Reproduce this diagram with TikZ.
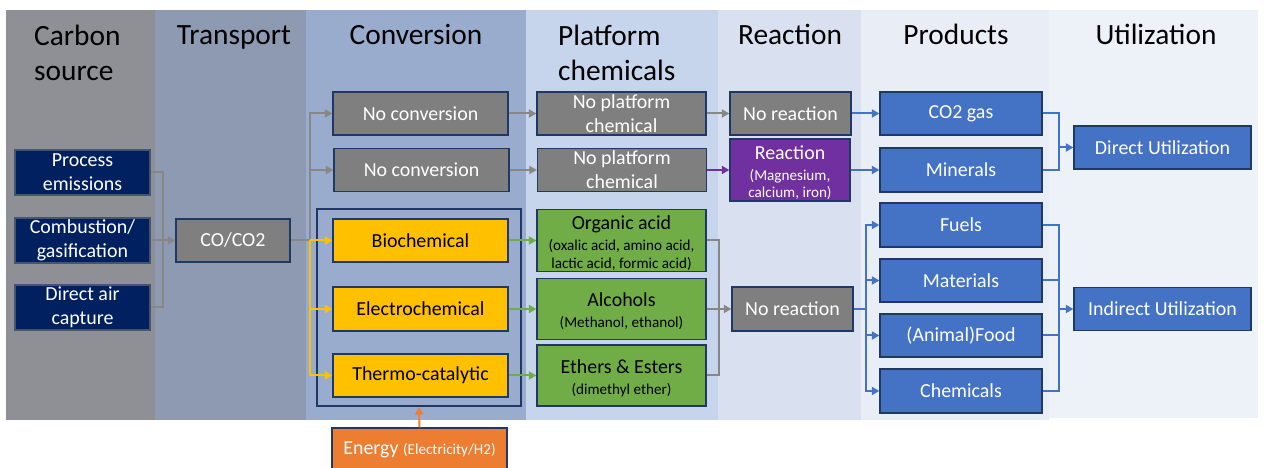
\documentclass[tikz,border=0pt]{standalone}
\usepackage{fontspec}
\setmainfont{Carlito}
\usetikzlibrary{arrows.meta}
\definecolor{cCarbon}{HTML}{8E9096}
\definecolor{cTrans}{HTML}{8D9AB2}
\definecolor{cConv}{HTML}{99ACCD}
\definecolor{cPlat}{HTML}{C6D4EC}
\definecolor{cReac}{HTML}{D9E1F1}
\definecolor{cProd}{HTML}{E9EDF6}
\definecolor{cUtil}{HTML}{EDF1F8}
\definecolor{cNavy}{HTML}{002060}
\definecolor{cBorder}{HTML}{1F3864}
\definecolor{cGrayBox}{HTML}{7F7F7F}
\definecolor{cYellow}{HTML}{FFC000}
\definecolor{cGreen}{HTML}{70AD47}
\definecolor{cPurple}{HTML}{7030A0}
\definecolor{cBlue}{HTML}{4472C4}
\definecolor{cOrange}{HTML}{ED7D31}
\definecolor{cLine}{HTML}{878787}
\newcommand\smalltxt[1]{{\fontsize{15.2}{18}\selectfont #1}}
\newcommand\tallstrut{\rule{0pt}{19bp}}
\begin{document}
\begin{tikzpicture}[x=1bp,y=-1bp,
  box/.style={draw=cBorder, line width=1.3bp, inner sep=0pt, align=center,
    font=\fontsize{20}{24}\selectfont, text=white},
  wh/.style 2 args={minimum width=#1bp, minimum height=#2bp},
  srcbox/.style={box, fill=cNavy, draw=cBorder!60!gray},
  graybox/.style={box, fill=cGrayBox},
  yelbox/.style={box, fill=cYellow, text=black},
  grnbox/.style={box, fill=cGreen, text=black},
  purbox/.style={box, fill=cPurple},
  bluebox/.style={box, fill=cBlue},
  orgbox/.style={box, fill=cOrange},
  groupbox/.style={draw=cBorder, line width=2bp, inner sep=0pt},
  header/.style={inner sep=0pt, font=\fontsize{29.5}{35}\selectfont, text=black, align=left},
  conn/.style={line width=2bp, line join=miter},
  arr/.style={conn, -{Triangle[length=7.5bp,width=8bp]}},
  gline/.style={conn, draw=cLine},
  garr/.style={arr, draw=cLine},
  yarr/.style={arr, draw=cYellow},
  grarr/.style={arr, draw=cGreen},
  parr/.style={arr, draw=cPurple},
  bline/.style={conn, draw=cBlue},
  barr/.style={arr, draw=cBlue},
  oarr/.style={arr, draw=cOrange}
]
\useasboundingbox (0,0) rectangle (1264,468);
\fill[white] (0,0) rectangle (1264,468);
% column backgrounds
\fill[cCarbon] (6,10) rectangle (155,420);
\fill[cTrans] (155,10) rectangle (306,420);
\fill[cConv] (306,10) rectangle (526,420);
\fill[cPlat] (526,10) rectangle (718,420);
\fill[cReac] (718,10) rectangle (861,420);
\fill[cProd] (861,10) rectangle (1049,420);
\fill[cUtil] (1049,10) rectangle (1258,418);
% headers
\node[header, anchor=west] (hC) at (34,52.5) {Carbon\\source};
\node[header, anchor=base] (hT) at (234,45) {Transport};
\node[header, anchor=base] (hV) at (416,45) {Conversion};
\node[header, anchor=west] (hP) at (558,52.5) {Platform\\chemicals};
\node[header, anchor=base] (hR) at (790,45) {Reaction};
\node[header, anchor=base] (hPr) at (956,45) {Products};
\node[header, anchor=base] (hU) at (1156,45) {Utilization};
% carbon sources
\node[srcbox, wh={135}{45}] (src1) at (82.5,172.5) {Process\\emissions};
\node[srcbox, wh={135}{45}] (src2) at (82.5,240.5) {Combustion/\\gasification};
\node[srcbox, wh={135}{45}] (src3) at (82.5,307.5) {Direct air\\capture};
% transport
\node[graybox, wh={114}{43}] (co) at (233,240.5) {CO/CO2};
% conversion
\node[groupbox, wh={204}{197}] (grp) at (419,307.5) {};
\node[graybox, wh={175}{43}] (nc1) at (420.5,113.5) {No conversion};
\node[graybox, wh={175}{43}] (nc2) at (421.5,170) {No conversion};
\node[yelbox, wh={175}{43}] (bio) at (420.5,240.5) {Biochemical};
\node[yelbox, wh={175}{44}] (ele) at (420.5,309) {Electrochemical};
\node[yelbox, wh={175}{43}] (thc) at (420.5,375.5) {Thermo-catalytic};
\node[orgbox, wh={175}{44}] (energy) at (419.5,450) {Energy \smalltxt{(Electricity/H2)}};
% platform chemicals
\node[graybox, wh={169}{43}] (np1) at (621.5,113.5) {No platform\\chemical};
\node[graybox, wh={169}{43}] (np2) at (622,170) {No platform\\chemical};
\node[grnbox, wh={169}{62}] (oa) at (621.5,240.5) {\tallstrut Organic acid\\[-3bp]\smalltxt{(oxalic acid, amino acid,}\\[-6bp]\smalltxt{lactic acid, formic acid)}};
\node[grnbox, wh={169}{61}] (al) at (621.5,309) {\tallstrut Alcohols\\[-3bp]\smalltxt{(Methanol, ethanol)}};
\node[grnbox, wh={169}{61}] (ee) at (621.5,375.5) {\tallstrut Ethers \& Esters\\[-3bp]\smalltxt{(dimethyl ether)}};
% reaction
\node[graybox, wh={121}{43}] (nr1) at (790.5,113.5) {No reaction};
\node[purbox, wh={120}{62}] (rx) at (790,170) {\tallstrut Reaction\\[-3bp]\smalltxt{(Magnesium,}\\[-7bp]\smalltxt{calcium, iron)}};
\node[graybox, wh={121}{44}] (nr2) at (792.5,309) {No reaction};
% products
\node[bluebox, wh={162}{43}] (co2) at (961,113.5) {CO2 gas};
\node[bluebox, wh={162}{44}] (min) at (961,170) {Minerals};
\node[bluebox, wh={162}{44}] (fuel) at (961,225) {Fuels};
\node[bluebox, wh={162}{43}] (mat) at (961,280.5) {Materials};
\node[bluebox, wh={162}{43}] (food) at (961,335.5) {(Animal)Food};
\node[bluebox, wh={162}{44}] (chem) at (961,391) {Chemicals};
% utilization
\node[bluebox, wh={177}{43}] (du) at (1162.5,147.5) {Direct Utilization};
\node[bluebox, wh={177}{43}] (iu) at (1162.5,309) {Indirect Utilization};
% junctions
\coordinate (j1) at (163,240.5);
\coordinate (j2) at (310,240.5);
\coordinate (j3) at (719,309);
\coordinate (j4) at (1059,147.5);
\coordinate (j5) at (866,309);
\coordinate (j6) at (1059,309);
% connectors: sources -> CO/CO2
\draw[gline] (src1.east) -| (j1);
\draw[gline] (src3.east) -| (j1);
\draw[garr] (src2.east) -- (co.west);
% CO/CO2 -> conversion
\draw[gline] (co.east) -- (j2);
\draw[garr] (j2) |- (nc1.west);
\draw[garr] (j2) |- (nc2.west);
\draw[yarr] (j2) -- (bio.west);
\draw[yarr] (j2) |- (ele.west);
\draw[yarr] (j2) |- (thc.west);
% energy
\draw[oarr] (energy.north) -- (grp.south);
% conversion -> platform
\draw[garr] (nc1.east) -- (np1.west);
\draw[garr] (nc2.east) -- (np2.west);
\draw[grarr] (bio.east) -- (oa.west);
\draw[grarr] (ele.east) -- (al.west);
\draw[grarr] (thc.east) -- (ee.west);
% platform -> reaction
\draw[garr] (np1.east) -- (nr1.west);
\draw[parr] (np2.east) -- (rx.west);
\draw[gline] (oa.east) -| (j3);
\draw[gline] (ee.east) -| (j3);
\draw[garr] (al.east) -- (nr2.west);
% reaction -> products
\draw[barr] (nr1.east) -- (co2.west);
\draw[barr] (rx.east) -- (min.west);
\draw[bline] (nr2.east) -- (j5);
\draw[barr] (j5) |- (fuel.west);
\draw[barr] (j5) |- (mat.west);
\draw[barr] (j5) |- (food.west);
\draw[barr] (j5) |- (chem.west);
% products -> utilization
\draw[bline] (co2.east) -| (j4);
\draw[bline] (min.east) -| (j4);
\draw[barr] (j4) -- (du.west);
\draw[bline] (fuel.east) -| (j6);
\draw[bline] (mat.east) -| (j6);
\draw[bline] (food.east) -| (j6);
\draw[bline] (chem.east) -| (j6);
\draw[barr] (j6) -- (iu.west);
\end{tikzpicture}
\end{document}
